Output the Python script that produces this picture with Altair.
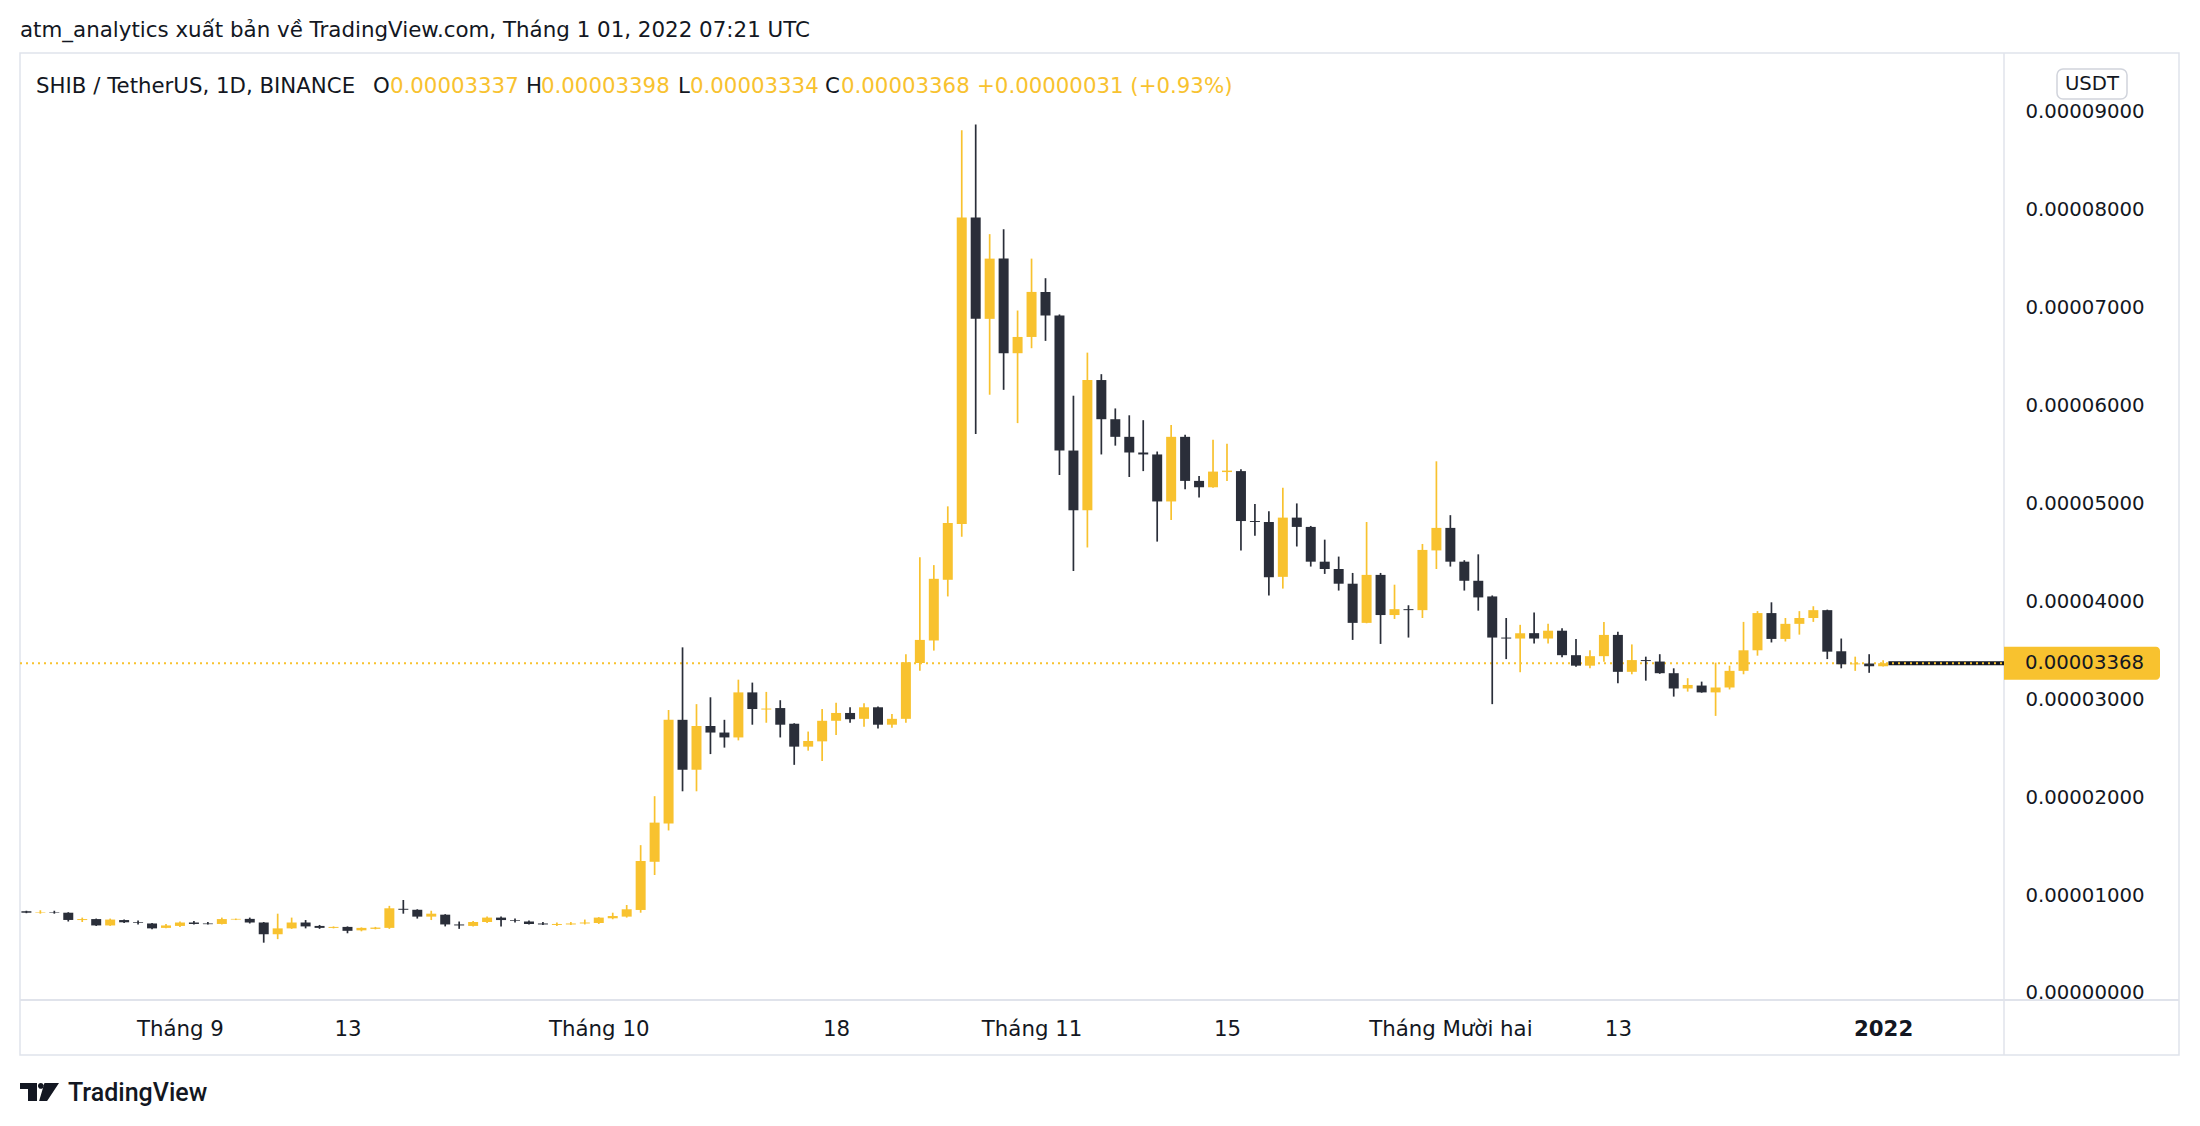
import altair as alt
import pandas as pd

# ---------------- data (prices in units of 1e-5 USDT) ----------------
OPEN = [0.835, 0.82, 0.825, 0.82, 0.745, 0.755, 0.69, 0.745, 0.722, 0.71,
        0.665, 0.685, 0.72, 0.71, 0.705, 0.75, 0.757, 0.72, 0.60, 0.66,
        0.72, 0.685, 0.665, 0.675, 0.64, 0.655, 0.665, 0.86, 0.85, 0.78,
        0.80, 0.70, 0.685, 0.725, 0.77, 0.745, 0.73, 0.71, 0.695, 0.70,
        0.71, 0.715, 0.763, 0.78, 0.848, 1.34, 1.73, 2.79, 2.28, 2.727,
        2.66, 2.61, 3.07, 2.895, 2.91, 2.75, 2.516, 2.57, 2.78, 2.86,
        2.80, 2.918, 2.74, 2.80, 3.37, 3.60, 4.22, 4.79, 7.92, 6.885,
        7.50, 6.534, 6.70, 7.16, 6.92, 5.54, 4.93, 6.26, 5.86, 5.68,
        5.52, 5.50, 5.02, 5.68, 5.23, 5.165, 5.32, 5.33, 4.82, 4.81,
        4.25, 4.855, 4.76, 4.405, 4.33, 4.18, 3.78, 4.27, 3.86, 3.92,
        3.91, 4.52, 4.75, 4.405, 4.21, 4.05, 3.63, 3.62, 3.675, 3.62,
        3.70, 3.45, 3.343, 3.44, 3.657, 3.28, 3.40, 3.385, 3.266, 3.11,
        3.14, 3.07, 3.12, 3.29, 3.50, 3.88, 3.616, 3.77, 3.83, 3.91,
        3.49, 3.357, 3.365, 3.337]
HIGH = [0.84, 0.845, 0.84, 0.825, 0.77, 0.76, 0.76, 0.75, 0.74, 0.715,
        0.705, 0.73, 0.735, 0.725, 0.77, 0.76, 0.77, 0.725, 0.81, 0.77,
        0.745, 0.695, 0.68, 0.68, 0.67, 0.675, 0.89, 0.95, 0.855, 0.84,
        0.805, 0.73, 0.735, 0.78, 0.78, 0.76, 0.74, 0.725, 0.72, 0.725,
        0.75, 0.775, 0.82, 0.899, 1.51, 2.01, 2.89, 3.53, 2.95, 3.02,
        2.79, 3.20, 3.17, 3.075, 2.99, 2.755, 2.67, 2.90, 2.965, 2.918,
        2.96, 2.925, 2.85, 3.46, 4.45, 4.37, 4.97, 8.81, 8.87, 7.75,
        7.80, 6.97, 7.50, 7.30, 6.93, 6.10, 6.54, 6.32, 5.97, 5.90,
        5.85, 5.53, 5.80, 5.70, 5.28, 5.65, 5.61, 5.35, 4.995, 4.92,
        5.16, 5.00, 4.77, 4.63, 4.457, 4.29, 4.81, 4.29, 4.17, 3.96,
        4.586, 5.43, 4.88, 4.42, 4.48, 4.06, 3.83, 3.76, 3.885, 3.77,
        3.725, 3.616, 3.50, 3.79, 3.69, 3.56, 3.435, 3.46, 3.316, 3.215,
        3.18, 3.374, 3.343, 3.79, 3.90, 3.99, 3.83, 3.90, 3.95, 3.915,
        3.62, 3.435, 3.46, 3.398]
LOW = [0.815, 0.81, 0.81, 0.73, 0.725, 0.685, 0.685, 0.715, 0.70, 0.65,
       0.66, 0.675, 0.70, 0.70, 0.70, 0.745, 0.71, 0.514, 0.55, 0.655,
       0.66, 0.655, 0.66, 0.61, 0.63, 0.65, 0.655, 0.81, 0.76, 0.745,
       0.68, 0.655, 0.68, 0.715, 0.68, 0.72, 0.70, 0.695, 0.685, 0.695,
       0.70, 0.705, 0.753, 0.77, 0.82, 1.205, 1.66, 2.06, 2.06, 2.44,
       2.506, 2.58, 2.74, 2.76, 2.61, 2.33, 2.475, 2.37, 2.635, 2.76,
       2.72, 2.70, 2.71, 2.76, 3.29, 3.497, 4.05, 4.66, 5.71, 6.11,
       6.16, 5.82, 6.585, 6.66, 5.29, 4.31, 4.55, 5.50, 5.59, 5.27,
       5.33, 4.61, 4.83, 5.145, 5.06, 5.16, 5.23, 4.52, 4.67, 4.06,
       4.13, 4.56, 4.355, 4.28, 4.11, 3.606, 3.776, 3.565, 3.82, 3.63,
       3.83, 4.33, 4.355, 4.11, 3.905, 2.95, 3.41, 3.276, 3.57, 3.57,
       3.43, 3.333, 3.316, 3.384, 3.163, 3.255, 3.19, 3.26, 3.027, 3.078,
       3.067, 2.83, 3.10, 3.255, 3.445, 3.58, 3.59, 3.66, 3.79, 3.41,
       3.316, 3.29, 3.27, 3.334]
CLOSE = [0.82, 0.825, 0.82, 0.746, 0.755, 0.69, 0.75, 0.722, 0.715, 0.66,
         0.69, 0.72, 0.705, 0.703, 0.755, 0.757, 0.72, 0.60, 0.66, 0.72,
         0.68, 0.665, 0.675, 0.635, 0.665, 0.668, 0.865, 0.85, 0.78, 0.81,
         0.70, 0.69, 0.725, 0.77, 0.745, 0.738, 0.705, 0.70, 0.705, 0.71,
         0.72, 0.77, 0.786, 0.855, 1.348, 1.74, 2.79, 2.28, 2.727, 2.66,
         2.61, 3.07, 2.90, 2.905, 2.74, 2.516, 2.574, 2.78, 2.86, 2.796,
         2.918, 2.74, 2.80, 3.378, 3.606, 4.23, 4.80, 7.92, 6.885, 7.50,
         6.534, 6.70, 7.16, 6.92, 5.54, 4.93, 6.26, 5.86, 5.68, 5.52,
         5.50, 5.02, 5.68, 5.23, 5.165, 5.325, 5.335, 4.82, 4.81, 4.246,
         4.855, 4.76, 4.405, 4.33, 4.18, 3.78, 4.27, 3.86, 3.92, 3.91,
         4.525, 4.75, 4.405, 4.21, 4.04, 3.63, 3.62, 3.674, 3.62, 3.70,
         3.45, 3.343, 3.44, 3.657, 3.28, 3.40, 3.39, 3.266, 3.11, 3.146,
         3.07, 3.12, 3.29, 3.50, 3.88, 3.616, 3.77, 3.83, 3.91, 3.486,
         3.357, 3.365, 3.337, 3.368]

# day index 0 = 21 Aug 2021
TICK_DAYS = [11, 23, 41, 58, 72, 86, 102, 114, 133]
TICK_LABELS = ["Tháng 9", "13", "Tháng 10", "18", "Tháng 11", "15",
               "Tháng Mười hai", "13", "2022"]
PRICE_TICKS = [0, 1, 2, 3, 4, 5, 6, 7, 8, 9]

TITLE = "atm_analytics xuất bản về TradingView.com, Tháng 1 01, 2022 07:21 UTC"
SYMBOL = "SHIB / TetherUS, 1D, BINANCE"

# ---------------- styling ----------------
YELLOW = "#F8C22F"
DARK = "#2A2E39"
TEXT = "#131722"
BORDER = "#E0E3EB"
FONT = "DejaVu Sans"
W, H = 1984, 947

df = pd.DataFrame({
    "day": list(range(len(OPEN))),
    "o": OPEN, "h": HIGH, "l": LOW, "c": CLOSE,
})
df["dir"] = ["up" if c >= o else "down" for o, c in zip(OPEN, CLOSE)]

last = CLOSE[-1]
prev = CLOSE[-2]
price_df = pd.DataFrame({"p": [last], "xs": [len(OPEN) - 1 + 0.38]})
one = pd.DataFrame({"a": [0]})

xscale = alt.Scale(domain=[-0.1, 141.3], nice=False, zero=False)
yscale = alt.Scale(domain=[-0.0715, 9.60], nice=False, zero=False)

label_expr = " : ".join(f"datum.value == {d} ? '{l}'" for d, l in zip(TICK_DAYS, TICK_LABELS)) + " : ''"
xaxis = alt.Axis(values=TICK_DAYS, labelExpr=label_expr, title=None, ticks=False, tickSize=0,
                 domain=False, grid=False, labelFont=FONT, labelFontSize=21.3, labelColor=TEXT,
                 labelPadding=29, labelBaseline="middle", labelOverlap=False, labelFlush=False,
                 labelFontWeight={"condition": {"test": f"datum.value == {TICK_DAYS[-1]}", "value": "bold"},
                                  "value": "normal"})
yaxis = alt.Axis(values=PRICE_TICKS, labelExpr="format(datum.value / 100000, '.8f')", title=None,
                 orient="right", ticks=False, tickSize=0, domain=False, grid=False,
                 labelFont=FONT, labelFontSize=19.7, labelColor=TEXT, labelPadding=21,
                 labelAlign="left", labelBaseline="middle", labelOverlap=False, labelFlush=False)

X = lambda f: alt.X(f, type="quantitative", scale=xscale, axis=xaxis)
Y = lambda f: alt.Y(f, type="quantitative", scale=yscale, axis=yaxis)

color = alt.Color("dir:N", scale=alt.Scale(domain=["up", "down"], range=[YELLOW, DARK]), legend=None)

# frame and separators
frame = alt.Chart(one).mark_rect(filled=False, stroke=BORDER, strokeWidth=1.5).encode(
    x=alt.value(0), x2=alt.value(2159), y=alt.value(0), y2=alt.value(1002))
vsep = alt.Chart(one).mark_rule(color=BORDER, strokeWidth=1.5).encode(
    x=alt.value(W), y=alt.value(0), y2=alt.value(1002))
hsep = alt.Chart(one).mark_rule(color=BORDER, strokeWidth=2).encode(
    x=alt.value(0), x2=alt.value(2159), y=alt.value(H))

black_seg = alt.Chart(price_df).mark_rule(color=TEXT, strokeWidth=4).encode(
    x=X("xs"), x2=alt.value(W), y=Y("p"))
dotted = alt.Chart(price_df).mark_rule(color=YELLOW, strokeWidth=2, strokeDash=[2, 4]).encode(
    x=alt.value(0), x2=alt.value(W), y=Y("p"))

wicks = alt.Chart(df).mark_rule(strokeWidth=1.7, clip=True).encode(
    x=X("day"), y=Y("l"), y2="h", color=color)
bodies = alt.Chart(df).mark_bar(size=10, clip=True).encode(
    x=X("day"), y=Y("o"), y2="c", color=color)

price_box = alt.Chart(price_df).mark_rect(color=YELLOW, cornerRadiusTopRight=4, cornerRadiusBottomRight=4,
                                          yOffset=-16.5, y2Offset=16.5).encode(
    x=alt.value(W), x2=alt.value(2140), y=Y("p"), y2="p")
price_txt = alt.Chart(price_df).mark_text(align="left", baseline="middle", font=FONT, fontSize=19.7,
                                          color=TEXT, text=f"{last / 1e5:.8f}").encode(
    x=alt.value(2005), y=Y("p"))


def txt(s, x, y, size, col=TEXT, weight="normal", font=FONT, align="left"):
    return alt.Chart(one).mark_text(text=s, align=align, baseline="middle", font=font, fontSize=size,
                                    color=col, fontWeight=weight).encode(x=alt.value(x), y=alt.value(y))


chg = last - prev
legend_parts = [
    (SYMBOL, 16, TEXT),
    ("O", 353, TEXT), (f"{OPEN[-1] / 1e5:.8f}", 370, YELLOW),
    ("H", 506, TEXT), (f"{HIGH[-1] / 1e5:.8f}", 521, YELLOW),
    ("L", 658, TEXT), (f"{LOW[-1] / 1e5:.8f}", 670, YELLOW),
    ("C", 805, TEXT), (f"{CLOSE[-1] / 1e5:.8f}", 821, YELLOW),
    (f"+{chg / 1e5:.8f} (+{chg / prev * 100:.2f}%)", 957, YELLOW),
]
legend_layers = [txt(s, x, 34, 21.3, c) for s, x, c in legend_parts]

title = txt(TITLE, 0, -22, 21.4)

usdt_box = alt.Chart(one).mark_rect(fill="white", stroke="#D1D4DC", strokeWidth=1.5, cornerRadius=6).encode(
    x=alt.value(2037), x2=alt.value(2107), y=alt.value(16), y2=alt.value(46))
usdt_txt = txt("USDT", 2072, 31, 19.7, align="center")

LOGO_PATH = ("M -1.026 -0.474 L -0.132 -0.474 L -0.132 0.474 L -0.605 0.474 L -0.605 -0.158 L -1.026 -0.158 Z "
             "M -0.08 -0.32 A 0.15 0.15 0 1 0 0.22 -0.32 A 0.15 0.15 0 1 0 -0.08 -0.32 Z "
             "M 0.26 -0.474 L 1.026 -0.474 L 0.40 0.474 L -0.02 0.474 Z")
logo = alt.Chart(one).mark_point(shape=LOGO_PATH, size=1444, filled=True, color=TEXT, opacity=1,
                                 strokeWidth=0).encode(x=alt.value(19.5), y=alt.value(1039))
logo_txt = txt("TradingView", 48, 1040, 25, weight=500, font="Roboto")

chart = alt.layer(
    frame, vsep, hsep, black_seg, dotted, wicks, bodies, price_box, price_txt,
    title, *legend_layers, usdt_box, usdt_txt, logo, logo_txt,
).properties(
    width=W, height=H,
    autosize=alt.AutoSizeParams(type="none"),
    padding={"left": 12, "top": 45, "right": 180, "bottom": 110},
    background="white",
).configure_view(stroke=None)

chart.save("out.html", embed_options={"renderer": "svg", "actions": False})
